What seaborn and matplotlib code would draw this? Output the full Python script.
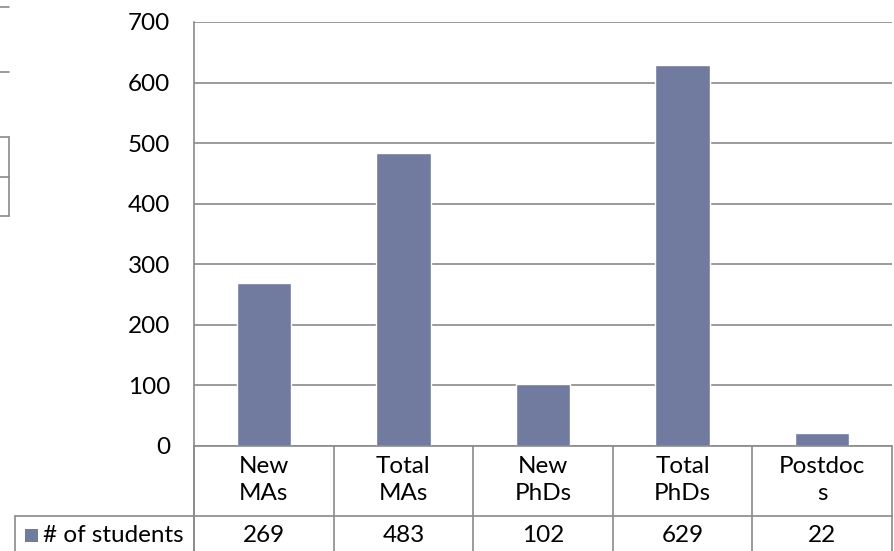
import matplotlib
matplotlib.use("Agg")
import matplotlib.pyplot as plt
import matplotlib.transforms as mtransforms
from matplotlib.lines import Line2D
from matplotlib.patches import Rectangle
import seaborn as sns
import pandas as pd

categories = ["New\nMAs", "Total\nMAs", "New\nPhDs", "Total\nPhDs", "Postdoc\ns"]
value_labels = ["269", "483", "102", "629", "22"]
students = [269, 483, 102, 629, 22]
series_name = "# of students"
yticks = [0, 100, 200, 300, 400, 500, 600, 700]

sns.set_theme(style="white")
plt.rcParams["font.family"] = ["Lato", "DejaVu Sans"]

BAR = "#717ba0"
GRID = "#8a8a8a"
W, H = 895, 551
FS = 17.5

fig = plt.figure(figsize=(W / 100, H / 100), dpi=100)
ax = fig.add_axes([194 / W, 1 - 446 / H, (892 - 194) / W, (446 - 22) / H])

df = pd.DataFrame({"cat": categories, "val": students})
sns.barplot(data=df, x="cat", y="val", color=BAR, saturation=1, width=0.39, ax=ax)

ax.set_xlim(-0.5, 4.5)
ax.set_ylim(0, 700)
ax.set_yticks(yticks)
ax.set_yticklabels([str(t) for t in yticks], fontsize=FS, color="black")
ax.tick_params(axis="y", length=0, pad=17)
ax.set_xticks([])
ax.set_xlabel("")
ax.set_ylabel("")
ax.grid(axis="y", color=GRID, linewidth=1.2)
ax.set_axisbelow(True)
for s in ["top", "right", "bottom"]:
    ax.spines[s].set_visible(False)
ax.spines["left"].set_color(GRID)
ax.spines["left"].set_linewidth(1.2)

# data table below the axes
def fy(py):
    return 1 - py / H

def fx(px):
    return px / W

def fline(x0, y0, x1, y1):
    fig.add_artist(Line2D([fx(x0), fx(x1)], [fy(y0), fy(y1)], color=GRID, linewidth=1.2))

fline(194, 446, 892, 446)
fline(15, 516, 892, 516)
fline(15, 516, 15, 551)
fline(194, 446, 194, 551)
trans_fig = fig.transFigure
blend = mtransforms.blended_transform_factory(ax.transData, ax.transAxes)
for i in range(len(categories) + 1):
    ax.plot([i - 0.5, i - 0.5], [0, -(551 - 446) / 424], transform=blend,
            color=GRID, linewidth=1.2, clip_on=False)

for i, (c, v) in enumerate(zip(categories, value_labels)):
    ax.text(i, -(480 - 446) / 424, c, transform=blend, ha="center", va="center",
            fontsize=FS, color="black", linespacing=1.3)
    ax.text(i, -(535 - 446) / 424, v, transform=blend, ha="center", va="center",
            fontsize=FS, color="black")

fig.add_artist(Rectangle((fx(25), fy(542)), 13 / W, 13 / H, transform=trans_fig,
                         facecolor=BAR, edgecolor="none"))
fig.text(fx(43), fy(535), series_name, ha="left", va="center", fontsize=FS, color="black")

# stray fragments at left edge
fline(0, 7, 9, 7)
fline(0, 72, 9, 72)
fline(0, 137, 9, 137)
fline(0, 177, 9, 177)
fline(0, 216, 9, 216)
fline(9, 137, 9, 216)

fig.savefig("out.png", dpi=100)
